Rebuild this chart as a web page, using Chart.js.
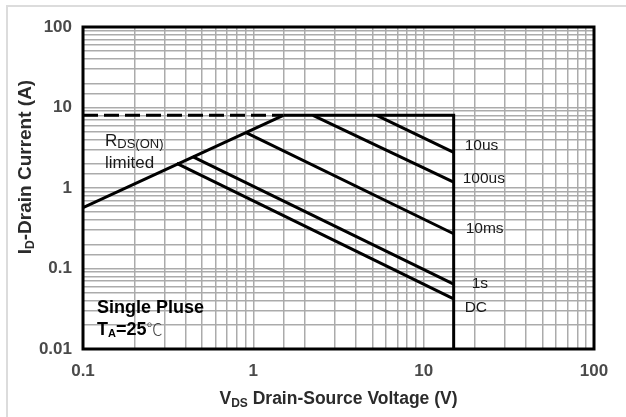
<!DOCTYPE html>
<html lang="en">
<head>
  <meta charset="UTF-8" />
  <title>Safe Operating Area</title>
  <script src="https://cdn.jsdelivr.net/npm/chart.js"></script>
  <style>
    body {
      margin: 0;
      background: #ffffff;
    }
    #wrap {
      width: 626px;
      height: 417px;
    }
  </style>
</head>
<body>
  <div id="wrap">
    <canvas id="soaChart" width="626" height="417"></canvas>
  </div>

  <script>
    // axis ranges and tick labels
    const xTicks = [0.1, 1, 10, 100];
    const yTicks = [0.01, 0.1, 1, 10, 100];

    // boundary lines (V, A)
    const rdsV = [0.1, 1.5];
    const rdsI = [0.57, 8];
    const dashV = [0.1, 1.5];
    const dashI = [8, 8];
    const limitV = [1.5, 15, 15];
    const limitI = [8, 8, 0.01];

    // pulse curves
    const us10V = [5.3, 15];
    const us10I = [8, 2.77];
    const us100V = [2.24, 15];
    const us100I = [8, 1.18];
    const ms10V = [0.9, 15];
    const ms10I = [4.9, 0.27];
    const s1V = [0.44, 15];
    const s1I = [2.45, 0.064];
    const dcV = [0.355, 15];
    const dcI = [2.02, 0.042];

    // curve labels: text + current at the label baseline, right of the 15 V line
    const curveLabels = ['10us', '100us', '10ms', '1s', 'DC'];
    const curveLabelI = [2.93, 1.14, 0.279, 0.0575, 0.0289];

    const toPts = (xs, ys) => xs.map((v, i) => ({ x: v, y: ys[i] }));

    function line(xs, ys, dash) {
      return {
        data: toPts(xs, ys),
        borderColor: '#000',
        borderWidth: 3,
        borderDash: dash || [],
        pointRadius: 0,
        tension: 0,
        fill: false
      };
    }

    // draw a run of text pieces (for subscripts)
    function drawRich(ctx, parts, x, y, align) {
      let total = 0;
      parts.forEach(p => { ctx.font = p.font; total += ctx.measureText(p.t).width; });
      let cx = align === 'center' ? x - total / 2 : x;
      parts.forEach(p => {
        ctx.font = p.font;
        ctx.fillStyle = p.color || '#1a1a1a';
        ctx.fillText(p.t, cx, y + (p.dy || 0));
        cx += ctx.measureText(p.t).width;
      });
    }

    const FAM = '"Liberation Sans", Arial, sans-serif';

    const decorations = {
      id: 'decorations',
      beforeDraw(chart) {
        const ctx = chart.ctx;
        ctx.save();
        ctx.fillStyle = '#fff';
        ctx.fillRect(0, 0, chart.width, chart.height);
        // faint frame of the figure
        ctx.strokeStyle = '#dcdcdc';
        ctx.lineWidth = 2;
        ctx.beginPath();
        ctx.moveTo(626, 6);
        ctx.lineTo(7, 6);
        ctx.lineTo(7, 417);
        ctx.stroke();
        ctx.restore();
      },
      afterDraw(chart) {
        const ctx = chart.ctx;
        const a = chart.chartArea;
        const xs = chart.scales.x, ys = chart.scales.y;
        ctx.save();
        ctx.strokeStyle = '#000';
        ctx.lineWidth = 3;
        ctx.strokeRect(a.left, a.top, a.right - a.left, a.bottom - a.top);

        ctx.textBaseline = 'alphabetic';

        // axis titles
        drawRich(ctx, [
          { t: 'V', font: 'bold 17.5px ' + FAM, color: '#2b2b2b' },
          { t: 'DS', font: 'bold 12px ' + FAM, dy: 3, color: '#2b2b2b' },
          { t: ' Drain-Source Voltage (V)', font: 'bold 17.5px ' + FAM, color: '#2b2b2b' }
        ], (a.left + a.right) / 2, 404, 'center');

        ctx.save();
        ctx.translate(31, 167);
        ctx.rotate(-Math.PI / 2);
        drawRich(ctx, [
          { t: 'I', font: 'bold 19px ' + FAM, color: '#2b2b2b' },
          { t: 'D', font: 'bold 12px ' + FAM, dy: 3, color: '#2b2b2b' },
          { t: '-Drain Current (A)', font: 'bold 19px ' + FAM, color: '#2b2b2b' }
        ], 0, 0, 'center');
        ctx.restore();

        // curve labels
        const lx = xs.getPixelForValue(15);
        const offs = [11, 9, 12, 18, 11];
        curveLabels.forEach((t, i) => {
          ctx.font = '15.5px ' + FAM;
          ctx.fillStyle = '#1a1a1a';
          ctx.fillText(t, lx + offs[i], ys.getPixelForValue(curveLabelI[i]));
        });

        // Rds(on) limited
        drawRich(ctx, [
          { t: 'R', font: '17px ' + FAM },
          { t: 'DS(ON)', font: '13px ' + FAM, dy: 2 }
        ], 105, 146, 'left');
        drawRich(ctx, [
          { t: 'limited', font: '17px ' + FAM }
        ], 105, 168, 'left');

        // conditions
        drawRich(ctx, [
          { t: 'Single Pluse', font: 'bold 18px ' + FAM, color: '#000' }
        ], 97, 313, 'left');
        drawRich(ctx, [
          { t: 'T', font: 'bold 18px ' + FAM, color: '#000' },
          { t: 'A', font: 'bold 11px ' + FAM, dy: 2, color: '#000' },
          { t: '=25', font: 'bold 18px ' + FAM, color: '#000' },
          { t: '℃', font: '300 16px "Noto Sans CJK SC", sans-serif', color: '#444' }
        ], 97, 335, 'left');

        ctx.restore();
      }
    };

    const decadeLabel = (list) => function (value) {
      const hit = list.find(v => Math.abs(Math.log10(v) - Math.log10(value)) < 1e-6);
      return hit !== undefined ? String(hit) : '';
    };

    new Chart(document.getElementById('soaChart'), {
      type: 'line',
      data: {
        datasets: [
          line(dashV, dashI, [15, 6]),
          line(rdsV, rdsI),
          line(limitV, limitI),
          line(us10V, us10I),
          line(us100V, us100I),
          line(ms10V, ms10I),
          line(s1V, s1I),
          line(dcV, dcI)
        ]
      },
      options: {
        responsive: false,
        animation: false,
        layout: { padding: { left: 8, top: 27, right: 32, bottom: 0 } },
        plugins: {
          legend: { display: false },
          tooltip: { enabled: false }
        },
        scales: {
          x: {
            type: 'logarithmic',
            min: 0.1,
            max: 100,
            afterFit(scale) { scale.height = 68; },
            border: { display: false },
            grid: { color: '#ababab', lineWidth: 1.5, drawTicks: false },
            ticks: {
              autoSkip: false,
              maxRotation: 0,
              padding: 12,
              color: '#4a4a4a',
              font: { family: FAM, size: 17, weight: 'bold' },
              callback: decadeLabel(xTicks)
            }
          },
          y: {
            type: 'logarithmic',
            min: 0.01,
            max: 100,
            afterFit(scale) { scale.width = 75; },
            border: { display: false },
            grid: { color: '#ababab', lineWidth: 1.5, drawTicks: false },
            ticks: {
              autoSkip: false,
              padding: 11,
              color: '#4a4a4a',
              font: { family: FAM, size: 17, weight: 'bold' },
              callback: decadeLabel(yTicks)
            }
          }
        }
      },
      plugins: [decorations]
    });
  </script>
</body>
</html>
